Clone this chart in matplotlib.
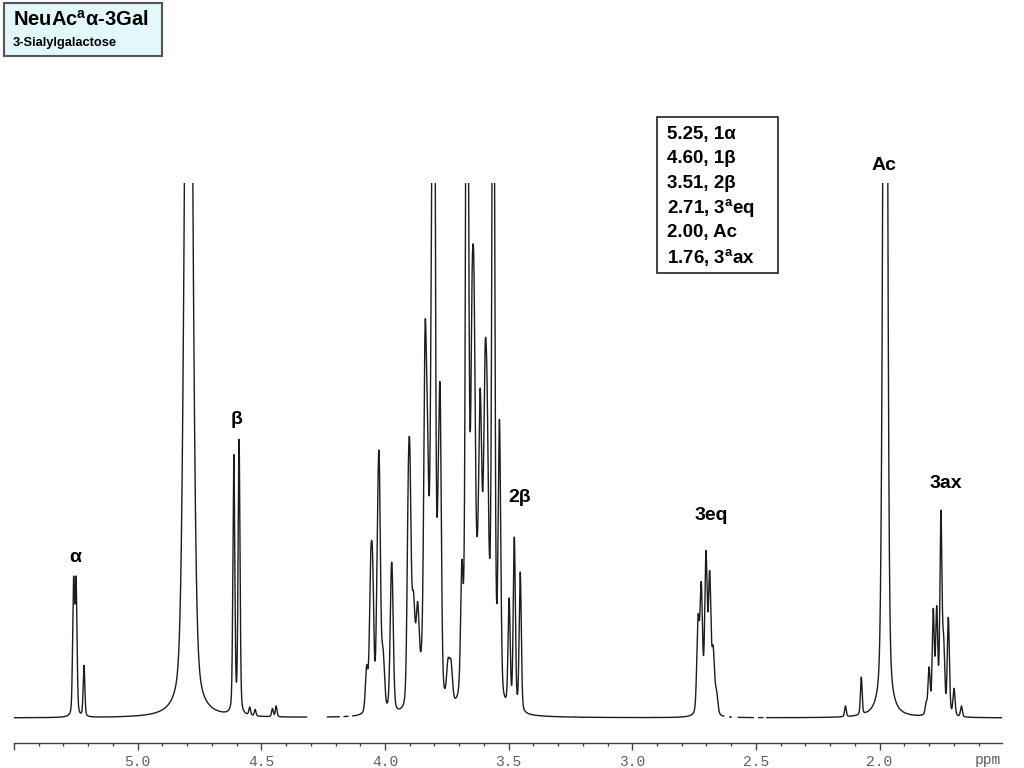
import numpy as np
import matplotlib
matplotlib.use('Agg')
import matplotlib.pyplot as plt
from matplotlib.patches import Rectangle
from matplotlib.transforms import Bbox

plt.rcParams['font.family'] = ['Liberation Sans', 'DejaVu Sans']
plt.rcParams['mathtext.fontset'] = 'custom'
plt.rcParams['mathtext.it'] = 'Liberation Sans:bold'
plt.rcParams['mathtext.rm'] = 'Liberation Sans:bold'
plt.rcParams['mathtext.bf'] = 'Liberation Sans:bold'

# peak list: shift (ppm), height (1 = top of plot), width (ppm)
peak_ppm = [5.259, 5.249, 5.217,
            4.794,
            4.611, 4.590, 4.547, 4.525, 4.455, 4.440,
            4.074, 4.058, 4.050, 4.030, 4.023, 4.008, 3.975, 3.970,
            3.906, 3.899, 3.885, 3.868, 3.838, 3.829, 3.811, 3.802, 3.785, 3.777,
            3.825, 3.745, 3.733,
            3.689, 3.669, 3.662, 3.648, 3.640, 3.615, 3.595, 3.587, 3.562, 3.537,
            3.610, 3.498, 3.477, 3.453,
            2.734, 2.721, 2.702, 2.687, 2.673, 2.660,
            2.138, 2.074, 1.992, 1.977,
            1.812, 1.800, 1.783, 1.769, 1.752, 1.741, 1.722, 1.699, 1.669]
peak_height = [0.245, 0.245, 0.095,
               2.0,
               0.48, 0.51, 0.015, 0.012, 0.015, 0.02,
               0.08, 0.22, 0.22, 0.22, 0.38, 0.10, 0.17, 0.15,
               0.30, 0.34, 0.18, 0.16, 0.50, 0.25, 0.50, 1.5, 0.20, 0.50,
               0.18, 0.07, 0.07,
               0.22, 1.5, 0.30, 0.48, 0.48, 0.30, 0.33, 0.28, 1.5, 0.50,
               0.28, 0.20, 0.32, 0.26,
               0.17, 0.23, 0.29, 0.25, 0.11, 0.04,
               0.02, 0.07, 0.08, 2.5,
               0.02, 0.085, 0.19, 0.19, 0.37, 0.12, 0.18, 0.05, 0.02]
peak_width = [0.009, 0.009, 0.008,
              0.034,
              0.009, 0.009, 0.008, 0.008, 0.008, 0.008,
              0.012, 0.012, 0.012, 0.012, 0.012, 0.014, 0.012, 0.012,
              0.012, 0.012, 0.015, 0.015, 0.012, 0.012, 0.012, 0.012, 0.012, 0.012,
              0.045, 0.014, 0.014,
              0.012, 0.012, 0.012, 0.012, 0.012, 0.012, 0.012, 0.012, 0.012, 0.012,
              0.070, 0.010, 0.010, 0.010,
              0.012, 0.012, 0.012, 0.012, 0.012, 0.013,
              0.008, 0.008, 0.012, 0.0175,
              0.009, 0.010, 0.010, 0.010, 0.010, 0.010, 0.010, 0.010, 0.009]
eta = 0.3  # lorentzian fraction of the line shape

# regions left blank in the plotted trace
gaps = [(4.317, 4.232), (4.185, 4.165), (4.150, 4.130),
        (2.630, 2.606), (2.600, 2.571), (2.511, 2.488), (2.472, 2.456)]

labels = ['α', 'β', '2β', '3eq', 'Ac', '3ax']
label_pos = [(75, 557), (237, 420), (520, 497), (711, 516), (884, 166), (946, 483)]

table_rows = ['5.25, 1α', '4.60, 1β', '3.51, 2β', r'2.71, 3$^{a}$eq',
              '2.00, Ac', r'1.76, 3$^{a}$ax']

# build trace
ppm = np.linspace(5.5, 1.5, 20000)
y = np.zeros_like(ppm)
for c, h, w in zip(peak_ppm, peak_height, peak_width):
    d = (ppm - c) / w
    g = np.exp(-4 * np.log(2) * d**2)
    l = 1.0 / (1 + 4 * d**2)
    y += h * ((1 - eta) * g + eta * l)
for a, b in gaps:
    y[(ppm < a) & (ppm > b)] = np.nan

W, H = 1024, 768
fig = plt.figure(figsize=(W / 100, H / 100), dpi=100)

def fx(x):
    return x / W

def fy(yy):
    return 1 - yy / H

ax = fig.add_axes([fx(14), fy(743), (1002 - 14) / W, (743 - 183) / H])
ax.plot(ppm, y, color='#1c1c1c', lw=1.0)
ax.set_xlim(5.5, 1.505)
ax.set_ylim(-(743 - 718) / 535, 1.0)
for s in ['top', 'right', 'left']:
    ax.spines[s].set_visible(False)
ax.spines['bottom'].set_color('#444444')
ax.spines['bottom'].set_linewidth(1.0)
ax.set_yticks([])
major = [5.5, 5.0, 4.5, 4.0, 3.5, 3.0, 2.5, 2.0]
ax.set_xticks(major)
ax.set_xticklabels(['' if m == 5.5 else '%.1f' % m for m in major],
                   family='Liberation Mono', fontsize=10.5, color='#606060')
ax.set_xticks(np.arange(5.5, 1.5, -0.1), minor=True)
ax.tick_params(axis='x', which='major', length=5, width=1, color='#444444', pad=4)
ax.tick_params(axis='x', which='minor', length=2.5, width=1, color='#444444')

ppm_txt = fig.text(fx(975), fy(760), 'ppm', family='Liberation Mono', fontsize=10.5,
                   color='#606060', va='center', ha='left')
ppm_txt.set_clip_box(Bbox.from_extents(0, 0, 1003, H))
ppm_txt.set_clip_on(True)

# peak labels
for t, (px, py) in zip(labels, label_pos):
    fig.text(fx(px), fy(py), t, fontsize=14, fontweight='bold', ha='center', va='center')

# title box
fig.add_artist(Rectangle((fx(4), fy(56)), (162 - 4) / W, (56 - 3) / H,
                         facecolor='#e3f8fc', edgecolor='#555555', lw=1.5))
fig.text(fx(13), fy(20), r'NeuAc$^{a}$α-3Gal', fontsize=14.5, fontweight='bold',
         va='center', ha='left')
fig.text(fx(13), fy(43), '3-Sialylgalactose', fontsize=9.3, fontweight='bold',
         va='center', ha='left')

# assignment box
fig.add_artist(Rectangle((fx(657), fy(273)), (778 - 657) / W, (273 - 117) / H,
                         facecolor='white', edgecolor='#222222', lw=1.2))
for i, row in enumerate(table_rows):
    fig.text(fx(667), fy(134 + i * 24.6), row, fontsize=13.5, fontweight='bold',
             va='center', ha='left')

fig.savefig('out.png', dpi=100)
